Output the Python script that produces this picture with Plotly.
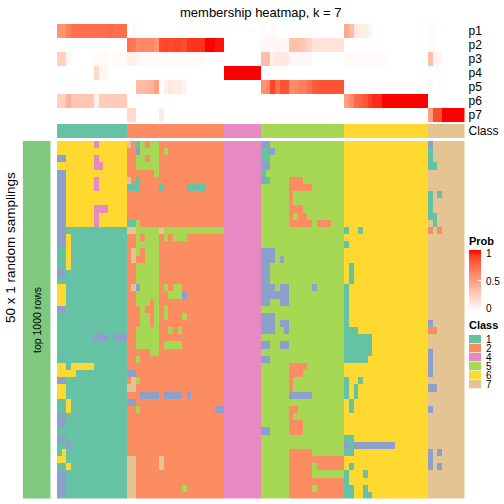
import plotly.graph_objects as go

W = H = 504
FONT = "Liberation Sans, Arial, Helvetica, sans-serif"

# ---------------- data ----------------
title_text = "membership heatmap, k = 7"

# class of each of the 88 samples (columns)
sample_classes = "111111111111111 222222222222222222222 44444444 555555555555555555 666666666666666666 77777777"

# 50 random samplings (rows) x 88 samples: predicted class
membership_rows = [
    "666666664666666 721525522222222222222 44444444 335555555555555555 666666666666666666 37777777",
    "666666666666666 223555525222222222222 44444444 113555555555555555 666666666666666666 17777777",
    "336666664666666 225525522222222222222 44444444 115555555555555555 666666666666666666 17777777",
    "666666664466666 225555522222222222222 44444444 335555555555555555 666666666666666666 11777777",
    "336666666666666 222222522222222222222 44444444 155555555555555555 666666666666666666 77777777",
    "336666664666666 721222222222222222222 44444444 315555222555555555 666666666666666666 77777777",
    "336666664666666 111222212222211112222 44444444 555555222225555555 666666666666666666 77777777",
    "336666666666666 222222222222222222222 44444444 555555255555555555 666666666666666666 17177777",
    "336666666666666 222222222222222222222 44444444 555555255555555555 666666666666666666 17777777",
    "336666664446666 222222222222222222222 44444444 555555222555555555 666666666666666666 17777777",
    "336666664666666 222222222222222222222 44444444 555555252255555555 666666666666666666 11777777",
    "336666664666666 115222222222222222222 44444444 555555222225222555 666666666666666666 71777777",
    "331111111111111 775555575555555555555 44444444 555555555555555555 166166666666666666 27277777",
    "336111111111111 225255525255522222222 44444444 555555555555555555 666666666666666666 77777777",
    "336111111111111 225555522222222222222 44444444 555555555555555555 166666666666666666 77777777",
    "116111111111111 275255522222222222222 44444444 333555555555555555 666666666666666666 77777777",
    "116111111111111 272255522222222222222 44444444 333535555555555555 666666666666666666 77777777",
    "116111111111111 225555522222222222222 44444444 335555555555555555 616666666666666666 77777777",
    "331111111111111 225555522222222222222 44444444 335555555555555555 616666666666666666 77777777",
    "111111111111111 225555522222222222222 44444444 335555555555555555 616666666666666666 77777777",
    "661111111111111 273555525255222222222 44444444 333533555553555555 166666666666666666 77777777",
    "661111111111111 225555522555322222222 44444444 333333555555555555 166666666666666666 77777777",
    "661111111111111 225552522222222222222 44444444 335533555555555555 166666666666666666 77777777",
    "331111111111111 222522525222222222222 44444444 555555555555555555 166666666666666666 77777777",
    "111111111111111 222552525222522222222 44444444 333555555555555555 166666666666666666 77777777",
    "111111111111111 222552522222222222222 44444444 333533555555555555 166666666666666666 37777777",
    "111111111111111 225555522525222222222 44444444 333553555555555555 111666666666666666 22777777",
    "111111113331333 225555522222222222222 44444444 555555555555555555 111111666666666666 77777777",
    "111111111111111 225555525555222222222 44444444 335533555555555555 111111666666666666 77777777",
    "111111111111111 222225522222222222222 44444444 555555555555555555 111111666666666666 37777777",
    "111111111111111 225222222222222222222 44444444 335555555555555555 111116666666666666 37777777",
    "661666661111111 222222222222222222222 44444444 555555222255555555 666666666666666666 37777777",
    "666611111111111 332222222222222222222 44444444 555555222555555555 666666666666666666 37777777",
    "331111111111111 275222222222222222222 44444444 555555255555555555 166166666666666666 77777777",
    "661111111111111 772222222222222222222 44444444 555555255555555555 161666666666666666 33777777",
    "661111111111111 222333323333232222222 44444444 555555333335555555 161666666666666666 77777777",
    "116111111111111 332222222222222222222 44444444 555555555555555555 616666666666666666 77777777",
    "116111111111111 225222222222222222233 44444444 555555225555555555 616666666666666666 37777777",
    "331111111111111 222222222222222222222 44444444 555555255555555555 666666666666666666 77777777",
    "331111111111111 222222222222222222222 44444444 555555222555555555 666666666666666666 77777777",
    "111111111111111 222222222222222222222 44444444 335555222555555555 666666666666666666 77777777",
    "331111111111111 222222222222222222222 44444444 555555555555555555 116666666666666666 77777777",
    "113111111111111 222222222222222222222 44444444 555555555555555555 313333333336666666 77777777",
    "161111111111111 222222222222222222222 44444444 555555222225555555 116666666666666666 37377777",
    "661111111111111 772222272222222222222 44444444 555555222222222222 666666666666666666 37777777",
    "116111111111111 772222272222222222222 44444444 555555222225222222 616666666666666666 37377777",
    "331111111111111 772222222222222222222 44444444 555555222225555555 166616666666666666 77777777",
    "331111111111111 772222222222222222222 44444444 555555222222222222 166666666666666666 77777777",
    "331111111111111 772222222222522222222 44444444 555555222225222222 116616666666666666 77777777",
    "331111111111111 772222222222222222222 44444444 555555222222222222 116611666666666666 77777777",
]

prob_labels = ["p1", "p2", "p3", "p4", "p5", "p6", "p7"]
prob_rows = [
    "0.55 0.55 0.65 0.72 0.72 0.72 0.72 0.72 0.72 0.72 0.72 0.75 0.72 0.72 0.72 | "
    "0 0.03 0 0 0 0 0 0 0 0 0 0 0 0 0 0 0 0 0 0 0 | 0 0 0 0 0 0 0 0 | "
    "0.02 0 0.03 0 0 0 0 0 0 0 0 0 0 0 0 0 0 0 | "
    "0.45 0.35 0.12 0.1 0.1 0.06 0 0 0 0 0 0 0 0 0 0 0 0 | 0.03 0.02 0 0 0 0 0 0",
    "0 0 0 0 0 0 0 0 0 0 0 0 0 0 0 | "
    "0.72 0.68 0.6 0.62 0.6 0.62 0.55 0.85 0.88 0.85 0.88 0.88 0.85 0.92 0.92 0.92 0.92 1 1 0.97 0.97 | "
    "0 0 0 0 0 0 0 0 | "
    "0.04 0.04 0.04 0.04 0.04 0.04 0.32 0.32 0.32 0.28 0.22 0.15 0.15 0.15 0.15 0.15 0.15 0.15 | "
    "0 0 0 0 0 0 0 0 0 0 0 0 0 0 0 0 0 0 | 0.02 0.02 0 0 0 0 0 0",
    "0.25 0.25 0.05 0 0 0 0 0 0.03 0.03 0.03 0 0.03 0.03 0.03 | "
    "0.08 0.08 0.06 0.03 0.03 0.03 0.03 0.03 0.03 0.03 0.03 0.03 0.03 0.03 0.03 0.03 0.03 0 0 0.02 0.02 | "
    "0 0 0 0 0 0 0 0 | "
    "0.35 0.35 0.08 0.12 0.12 0.12 0.04 0.04 0.04 0.04 0.04 0 0 0 0 0 0 0 | "
    "0.03 0.02 0.02 0.02 0.02 0.02 0.02 0.02 0.02 0 0 0 0 0 0 0 0 0 | 0.35 0.06 0.06 0 0 0 0 0",
    "0 0 0 0 0 0 0 0 0.2 0.05 0.05 0 0 0 0 | "
    "0 0 0 0 0 0 0 0 0 0 0 0 0 0 0 0 0 0 0 0 0 | 1 1 1 1 1 1 1 1 | "
    "0 0 0 0 0 0 0 0 0 0 0 0 0 0 0 0 0 0 | "
    "0 0 0 0 0 0 0 0 0 0 0 0 0 0 0 0 0 0 | 0 0 0 0 0 0 0 0",
    "0 0 0 0 0 0 0 0 0 0 0 0 0 0 0 | "
    "0 0 0.35 0.35 0.38 0.4 0.5 0 0.08 0.12 0.1 0.1 0.06 0 0 0 0 0 0 0 0 | 0 0 0 0 0 0 0 0 | "
    "0.55 0.6 0.88 0.72 0.82 0.82 0.6 0.6 0.65 0.65 0.72 0.8 0.82 0.82 0.82 0.82 0.82 0.82 | "
    "0 0 0 0 0 0 0 0 0 0 0 0 0 0 0 0 0 0 | 0.02 0 0.02 0 0 0 0 0",
    "0.25 0.25 0.4 0.3 0.3 0.3 0.3 0.3 0.08 0.27 0.27 0.27 0.27 0.27 0.27 | "
    "0 0 0 0 0 0 0 0 0 0 0 0 0 0 0 0 0 0 0 0 0 | 0 0 0 0 0 0 0 0 | "
    "0 0 0 0 0 0 0 0 0 0 0 0 0 0 0 0 0 0 | "
    "0.5 0.6 0.75 0.78 0.82 0.9 0.93 0.93 1 1 1 1 1 1 1 1 1 1 | 0 0 0 0 0 0 0 0",
    "0 0 0 0 0 0 0 0 0 0 0 0 0 0 0 | "
    "0.2 0.2 0 0 0 0 0 0.1 0 0 0 0 0 0 0 0 0 0 0 0 0 | 0 0 0 0 0 0 0 0 | "
    "0 0 0 0 0 0 0 0 0 0 0 0 0 0 0 0 0 0 | "
    "0 0 0 0 0 0 0 0 0 0 0 0 0 0 0 0 0 0 | 0.5 0.85 0.85 1 1 1 1 1",
]

legend_classes = ["1", "2", "4", "5", "6", "7"]
class_colors = {1: "#66C2A5", 2: "#FC8D62", 3: "#8DA0CB", 4: "#E78AC3",
                5: "#A6D854", 6: "#FFD92F", 7: "#E5C494"}
sampling_color = "#7FC97F"
prob_ticks = [0, 0.5, 1]
prob_ticktext = ["0", "0.5", "1"]

# ---------------- parse ----------------
sc = [int(c) for c in sample_classes.replace(" ", "")]
M = [[int(c) for c in r.replace(" ", "")] for r in membership_rows]
P = [[float(v) for v in r.replace("|", " ").split()] for r in prob_rows]
NC = len(sc)
for r in M:
    assert len(r) == NC, len(r)
for r in P:
    assert len(r) == NC, len(r)
NR = len(M)

# ---------------- colours ----------------
disc = []
for k in range(1, 8):
    disc.append([(k - 1) / 7, class_colors[k]])
    disc.append([k / 7, class_colors[k]])


def _lab(rgb):
    def lin(c):
        c /= 255
        return c / 12.92 if c <= 0.04045 else ((c + 0.055) / 1.055) ** 2.4
    r, g, b = [lin(c) for c in rgb]
    X = (0.4124 * r + 0.3576 * g + 0.1805 * b) / 0.95047
    Y = 0.2126 * r + 0.7152 * g + 0.0722 * b
    Z = (0.0193 * r + 0.1192 * g + 0.9505 * b) / 1.08883
    f = lambda t: t ** (1 / 3) if t > 0.008856 else 7.787 * t + 16 / 116
    fx, fy, fz = f(X), f(Y), f(Z)
    return 116 * fy - 16, 500 * (fx - fy), 200 * (fy - fz)


def _rgb(L, a, bb):
    fy = (L + 16) / 116
    fx = fy + a / 500
    fz = fy - bb / 200
    inv = lambda t: t ** 3 if t ** 3 > 0.008856 else (t - 16 / 116) / 7.787
    X, Y, Z = inv(fx) * 0.95047, inv(fy), inv(fz) * 1.08883
    r = 3.2406 * X - 1.5372 * Y - 0.4986 * Z
    g = -0.9689 * X + 1.8758 * Y + 0.0415 * Z
    b = 0.0557 * X - 0.2040 * Y + 1.0570 * Z

    def gam(c):
        c = min(max(c, 0), 1)
        c = 12.92 * c if c <= 0.0031308 else 1.055 * c ** (1 / 2.4) - 0.055
        return int(round(c * 255))
    return "rgb(%d,%d,%d)" % (gam(r), gam(g), gam(b))


w_lab, r_lab = _lab((255, 255, 255)), _lab((255, 0, 0))
prob_cs = []
for i in range(11):
    t = i / 10
    prob_cs.append([t, _rgb(*[w_lab[j] + t * (r_lab[j] - w_lab[j]) for j in range(3)])])

# ---------------- geometry (pixels) ----------------
def px(x):
    return x / W


def py(y):
    return 1 - y / H


HX0, HX1 = 57, 464.5
MAIN_Y0, MAIN_Y1 = 141, 498.5
TOP_Y0, TOP_Y1 = 24, 122.3
CLS_Y0, CLS_Y1 = 124, 138
BAR_X0, BAR_X1 = 22.7, 50.7
CB_TOP, CB_BOT = 249.5, 310.5

fig = go.Figure()
fig.add_trace(go.Heatmap(z=M, xaxis="x", yaxis="y", colorscale=disc, zmin=0.5, zmax=7.5,
                         showscale=False, hoverinfo="skip"))
fig.add_trace(go.Heatmap(z=P, xaxis="x", yaxis="y2", colorscale=prob_cs, zmin=0, zmax=1,
                         hoverinfo="skip",
                         colorbar=dict(x=px(469), xanchor="left", xpad=0,
                                       y=py(CB_TOP), yanchor="top", ypad=0,
                                       len=CB_BOT - CB_TOP, lenmode="pixels",
                                       thickness=12, thicknessmode="pixels",
                                       outlinewidth=0, tickvals=prob_ticks,
                                       showticklabels=False,
                                       ticks="inside", ticklen=3, tickcolor="white")))
fig.add_trace(go.Heatmap(z=[sc], xaxis="x", yaxis="y3", colorscale=disc, zmin=0.5, zmax=7.5,
                         showscale=False, hoverinfo="skip"))
fig.add_trace(go.Heatmap(z=[[1] for _ in range(NR)], xaxis="x2", yaxis="y",
                         colorscale=[[0, sampling_color], [1, sampling_color]],
                         showscale=False, hoverinfo="skip"))

hid = dict(visible=False, showgrid=False, zeroline=False)
lab_axis = dict(side="right", tickmode="array", showgrid=False, zeroline=False, showline=False,
                ticks="", tickfont=dict(size=12, color="black", family=FONT), anchor="x",
                ticklabelstandoff=3)

annotations = [
    dict(text=title_text, x=px(261), y=py(12.5), xref="paper", yref="paper",
         showarrow=False, font=dict(size=13, color="black", family=FONT),
         xanchor="center", yanchor="middle"),
    dict(text="50 x 1 random samplings", x=px(10), y=py(248), xref="paper", yref="paper",
         showarrow=False, textangle=-90, font=dict(size=13.5, color="black", family=FONT),
         xanchor="center", yanchor="middle"),
    dict(text="top 1000 rows", x=px(37), y=py(320), xref="paper", yref="paper",
         showarrow=False, textangle=-90, font=dict(size=10.5, color="black", family=FONT),
         xanchor="center", yanchor="middle"),
    dict(text="<b>Prob</b>", x=px(467), y=py(241), xref="paper", yref="paper",
         showarrow=False, font=dict(size=11, color="black", family=FONT),
         xanchor="left", yanchor="middle"),
    dict(text="<b>Class</b>", x=px(467), y=py(325), xref="paper", yref="paper",
         showarrow=False, font=dict(size=11, color="black", family=FONT),
         xanchor="left", yanchor="middle"),
]
# colorbar labels (placed like the reference legend)
for v, t, yy in zip(prob_ticks, prob_ticktext, [308, 281, 253.5]):
    annotations.append(dict(text=t, x=px(484), y=py(yy), xref="paper", yref="paper",
                            showarrow=False, font=dict(size=10, color="black", family=FONT),
                            xanchor="left", yanchor="middle"))
shapes = []
for i, lab in enumerate(legend_classes):
    top = 335 + 9 * i
    shapes.append(dict(type="rect", xref="paper", yref="paper",
                       x0=px(469), x1=px(481), y0=py(top), y1=py(top + 8.3),
                       fillcolor=class_colors[int(lab)], line=dict(width=0)))
    annotations.append(dict(text=lab, x=px(484), y=py(top + 4.3), xref="paper", yref="paper",
                            showarrow=False, font=dict(size=10, color="black", family=FONT),
                            xanchor="left", yanchor="middle"))

fig.update_layout(
    width=W, height=H, margin=dict(l=0, r=0, t=0, b=0),
    paper_bgcolor="white", plot_bgcolor="white", showlegend=False,
    font=dict(family=FONT),
    xaxis=dict(domain=[px(HX0), px(HX1)], range=[-0.5, NC - 0.5], anchor="y", **hid),
    xaxis2=dict(domain=[px(BAR_X0), px(BAR_X1)], range=[-0.5, 0.5], anchor="y", **hid),
    yaxis=dict(domain=[py(MAIN_Y1), py(MAIN_Y0)], range=[NR - 0.5, -0.5], anchor="x", **hid),
    yaxis2=dict(domain=[py(TOP_Y1), py(TOP_Y0)], range=[len(prob_labels) - 0.5, -0.5],
                tickvals=list(range(len(prob_labels))), ticktext=prob_labels, **lab_axis),
    yaxis3=dict(domain=[py(CLS_Y1), py(CLS_Y0)], range=[0.5, -0.5],
                tickvals=[0], ticktext=["Class"], **lab_axis),
    annotations=annotations, shapes=shapes,
)

fig.write_html("out.html", config={"displayModeBar": False, "staticPlot": True},
               post_script="document.body.style.margin='0';document.body.style.padding='0';"
                           "document.body.style.overflow='hidden';")
